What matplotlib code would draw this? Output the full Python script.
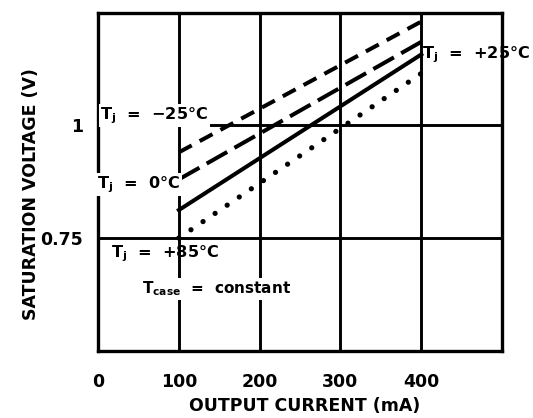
"""Saturation voltage vs output current, one line per junction temperature."""

import matplotlib

matplotlib.use("Agg")
import matplotlib.pyplot as plt  # noqa: E402

plt.rcParams["font.family"] = ["DejaVu Sans"]
plt.rcParams["font.weight"] = "bold"
plt.rcParams["mathtext.fontset"] = "dejavusans"
plt.rcParams["lines.scale_dashes"] = False

# endpoints (mA, V)
current = [100, 400]
vsat_m25 = [0.94, 1.23]
vsat_0 = [0.88, 1.185]
vsat_25 = [0.812, 1.157]
vsat_85 = [0.75, 1.115]

x_ticks = [0, 100, 200, 300, 400]
x_ticklabels = ["0", "100", "200", "300", "400"]
y_ticks = [0.75, 1.0]
y_ticklabels = ["0.75", "1"]

fig = plt.figure(figsize=(5.33, 4.18), dpi=100)
ax = fig.add_axes([0.184, 0.161, 0.758, 0.809])
ax.set_xlim(0, 500)
ax.set_ylim(0.5, 1.25)

ax.plot(current, vsat_m25, color="k", lw=2.9, dashes=(10.5, 6.5), solid_capstyle="butt")
ax.plot(current, vsat_0, color="k", lw=2.9, dashes=(17, 6), solid_capstyle="butt")
ax.plot(current, vsat_25, color="k", lw=2.9)
ax.plot(current, vsat_85, color="k", lw=3.8, dashes=(0.01, 10.5), dash_capstyle="round")

ax.set_xticks(x_ticks)
ax.set_xticklabels(x_ticklabels)
ax.set_yticks(y_ticks)
ax.set_yticklabels(y_ticklabels)
ax.tick_params(length=0, labelsize=12.5)
ax.tick_params(axis="x", pad=16)
ax.tick_params(axis="y", pad=11)
ax.grid(True, color="k", lw=2.1)
ax.set_axisbelow(True)
for s in ax.spines.values():
    s.set_linewidth(2.4)

box = dict(facecolor="white", edgecolor="none", pad=1.0)
kw = dict(fontsize=11.6, fontweight="bold", va="center", ha="left", clip_on=False, zorder=5)
ax.text(3, 1.022, r"T$_{\mathbf{j}}$  =  −25°C", bbox=box, **kw)
ax.text(-1, 0.869, r"T$_{\mathbf{j}}$  =  0°C", bbox=box, **kw)
ax.text(15.5, 0.715, r"T$_{\mathbf{j}}$  =  +85°C", **kw)
ax.text(54, 0.637, r"T$_{\mathbf{case}}$  =  constant", bbox=box,
        **{**kw, "fontsize": 11})
ax.text(400.5, 1.156, r"T$_{\mathbf{j}}$  =  +25°C", **kw)

fig.text(305 / 533, 1 - 405.7 / 418, "OUTPUT CURRENT (mA)", fontsize=12.5,
         fontweight="bold", ha="center", va="center")
fig.text(30.6 / 533, 1 - 194 / 418, "SATURATION VOLTAGE (V)", fontsize=12.5,
         fontweight="bold", ha="center", va="center", rotation=90)

fig.savefig("out.png", dpi=100)
